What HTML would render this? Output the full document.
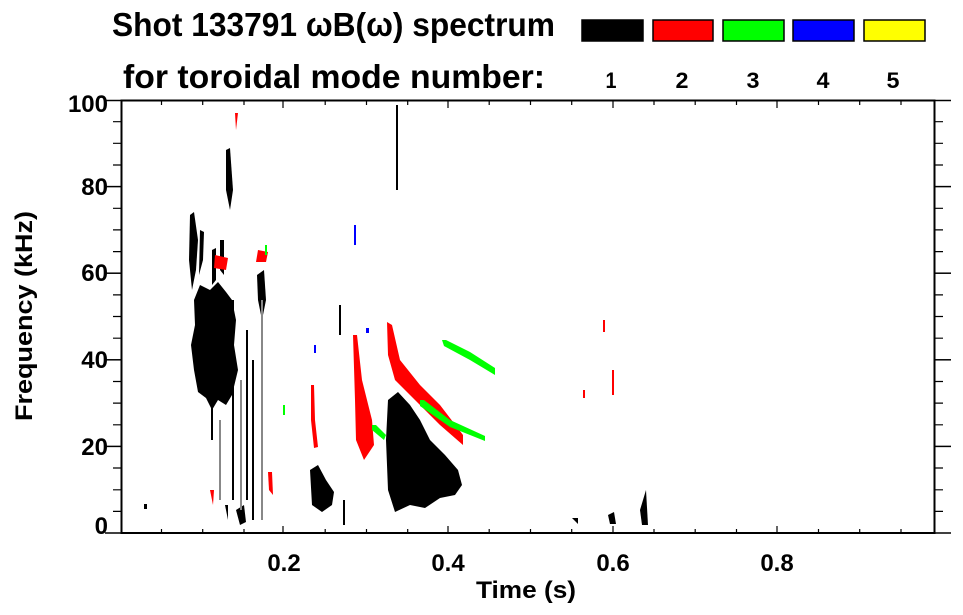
<!DOCTYPE html>
<html><head><meta charset="utf-8"><style>
html,body{margin:0;padding:0;background:#fff;}
svg{display:block;font-family:"Liberation Sans",Arial,sans-serif;font-weight:bold;}
</style></head><body>
<svg width="963" height="615" viewBox="0 0 963 615" xmlns="http://www.w3.org/2000/svg">
<!-- titles -->
<text x="112" y="36" font-size="33" textLength="443" lengthAdjust="spacingAndGlyphs">Shot 133791 ωB(ω) spectrum</text>
<text x="123" y="88" font-size="33" textLength="422" lengthAdjust="spacingAndGlyphs">for toroidal mode number:</text>
<g stroke="#000" stroke-width="1.5">
<rect x="582" y="20" width="61" height="21" fill="#000"/>
<rect x="653" y="20" width="60" height="21" fill="#f00"/>
<rect x="723" y="20" width="61" height="21" fill="#0f0"/>
<rect x="793" y="20" width="61" height="21" fill="#00f"/>
<rect x="864" y="20" width="61" height="21" fill="#ff0"/>
</g>
<g font-size="22" text-anchor="middle">
<text x="611" y="88" textLength="11" lengthAdjust="spacingAndGlyphs">1</text><text x="682" y="88" textLength="13" lengthAdjust="spacingAndGlyphs">2</text><text x="753" y="88" textLength="13" lengthAdjust="spacingAndGlyphs">3</text><text x="823" y="88" textLength="13" lengthAdjust="spacingAndGlyphs">4</text><text x="893" y="88" textLength="13" lengthAdjust="spacingAndGlyphs">5</text>
</g>

<!-- data -->
<g fill="#000">
<path d="M194 300 L200 285 L210 290 L218 282 L226 292 L232 300 L236 320 L234 345 L238 370 L232 395 L226 405 L218 400 L212 410 L206 398 L198 392 L194 370 L191 345 L195 325 Z"/>
<path d="M190 215 L194 212 L198 240 L196 270 L192 290 L189 260 Z"/>
<path d="M200 230 L204 232 L203 260 L199 275 Z"/>
<path d="M212 250 L216 248 L216 280 L212 285 Z"/>
<path d="M226 150 L230 148 L233 190 L230 210 L226 190 Z"/>
<path d="M220 240 L224 240 L224 275 L220 270 Z"/>
<path d="M257 275 L264 270 L266 300 L262 320 L258 300 Z"/>
<rect x="232" y="300" width="2" height="200"/>
<rect x="246" y="330" width="2" height="170"/>
<rect x="252" y="360" width="2" height="160"/>
<rect x="211" y="400" width="2" height="40"/>
<path d="M236 510 L244 505 L246 522 L240 525 Z"/>
<path d="M225 505 L228 505 L228 520 Z"/>
<rect x="144" y="504" width="3" height="5"/>
<rect x="396" y="105" width="2" height="85"/>
<rect x="339" y="305" width="2" height="30"/>
<path d="M310 470 L318 465 L326 480 L334 492 L332 505 L322 512 L312 505 Z"/>
<path d="M388 400 L398 392 L410 405 L420 420 L430 440 L445 455 L458 470 L462 485 L455 495 L440 498 L425 508 L410 505 L395 512 L388 490 L386 440 Z"/>
<rect x="343" y="500" width="2" height="25"/>
<path d="M572 518 L578 518 L578 524 Z"/>
<path d="M608 515 L614 512 L616 524 L610 524 Z"/>
<path d="M640 510 L646 490 L648 525 L642 525 Z"/>
</g>
<g fill="#888">
<rect x="261" y="300" width="2" height="220"/>
<rect x="240" y="380" width="2" height="130"/>
<rect x="219" y="420" width="2" height="80"/>
</g>
<g fill="#f00">
<path d="M235 113 L238 113 L236 130 Z"/>
<path d="M215 255 L228 258 L226 270 L214 268 Z"/>
<path d="M258 250 L268 252 L266 262 L256 262 Z"/>
<path d="M268 472 L272 472 L273 495 L269 490 Z"/>
<path d="M210 490 L214 490 L213 505 Z"/>
<path d="M311 385 L314 385 L315 420 L318 447 L314 448 L311 420 Z"/>
<path d="M353 335 L357 335 L362 380 L372 420 L374 445 L364 460 L356 440 L355 400 Z"/>
<path d="M387 322 L392 325 L400 360 L420 385 L440 405 L463 435 L463 445 L440 425 L415 400 L395 380 L388 355 Z"/>
<rect x="603" y="320" width="2" height="12"/>
<rect x="612" y="370" width="2" height="25"/>
<rect x="583" y="390" width="2" height="8"/>
</g>
<g fill="#0f0">
<path d="M442 340 L446 340 L470 352 L495 368 L495 375 L470 360 L444 346 Z"/>
<path d="M420 400 L424 400 L450 420 L485 436 L485 441 L450 427 L420 406 Z"/>
<path d="M372 425 L376 425 L386 435 L384 440 L372 430 Z"/>
<rect x="265" y="245" width="2" height="10"/>
<rect x="283" y="405" width="2" height="10"/>
</g>
<g fill="#00f">
<rect x="354" y="225" width="2" height="20"/>
<rect x="314" y="345" width="2" height="8"/>
<rect x="366" y="328" width="3" height="5"/>
</g>

<!-- axes -->
<g stroke="#000" stroke-width="2" fill="none">
<rect x="121.5" y="100.5" width="813" height="432.5"/>
</g>
<g stroke="#000" stroke-width="1.5">
<line x1="105" y1="533" x2="121" y2="533"/><line x1="105" y1="446.4" x2="121" y2="446.4"/><line x1="105" y1="359.8" x2="121" y2="359.8"/><line x1="105" y1="273.2" x2="121" y2="273.2"/><line x1="105" y1="186.6" x2="121" y2="186.6"/><line x1="105" y1="100.5" x2="121" y2="100.5"/>
<line x1="935" y1="533" x2="951" y2="533"/><line x1="935" y1="446.4" x2="951" y2="446.4"/><line x1="935" y1="359.8" x2="951" y2="359.8"/><line x1="935" y1="273.2" x2="951" y2="273.2"/><line x1="935" y1="186.6" x2="951" y2="186.6"/><line x1="935" y1="100.5" x2="951" y2="100.5"/>
</g>
<g stroke="#000" stroke-width="1.2">
<path d="M113 511.4H121M113 489.8H121M113 468H121M113 424.8H121M113 403.1H121M113 381.5H121M113 338.2H121M113 316.5H121M113 294.9H121M113 251.6H121M113 229.9H121M113 208.3H121M113 165H121M113 143.3H121M113 121.7H121"/>
<path d="M935 511.4H943M935 489.8H943M935 468H943M935 424.8H943M935 403.1H943M935 381.5H943M935 338.2H943M935 316.5H943M935 294.9H943M935 251.6H943M935 229.9H943M935 208.3H943M935 165H943M935 143.3H943M935 121.7H943"/>
<path d="M161.5 533V529M202.7 533V529M244 533V529M325.2 533V529M366.5 533V529M407.7 533V529M489.2 533V529M530.5 533V529M571.7 533V529M654 533V529M695.2 533V529M736.5 533V529M818.5 533V529M859.7 533V529M901 533V529"/>
<path d="M283 533V526M448 533V526M613 533V526M777 533V526"/>
<path d="M161.5 101V105M202.7 101V105M244 101V105M325.2 101V105M366.5 101V105M407.7 101V105M489.2 101V105M530.5 101V105M571.7 101V105M654 101V105M695.2 101V105M736.5 101V105M818.5 101V105M859.7 101V105M901 101V105"/>
<path d="M283 101V108M448 101V108M613 101V108M777 101V108"/>
</g>
<!-- tick labels -->
<g font-size="24" text-anchor="end">
<text x="108" y="534">0</text><text x="108" y="455">20</text><text x="108" y="368">40</text><text x="108" y="281">60</text><text x="108" y="195">80</text><text x="108" y="112">100</text>
</g>
<g font-size="24" text-anchor="middle">
<text x="284" y="571">0.2</text><text x="448" y="571">0.4</text><text x="613" y="571">0.6</text><text x="777" y="571">0.8</text>
<text x="526" y="598" textLength="100" lengthAdjust="spacingAndGlyphs">Time (s)</text>
</g>
<text x="0" y="0" font-size="24" text-anchor="middle" textLength="210" lengthAdjust="spacingAndGlyphs" transform="translate(32 316) rotate(-90)">Frequency (kHz)</text>
</svg>
</body></html>
